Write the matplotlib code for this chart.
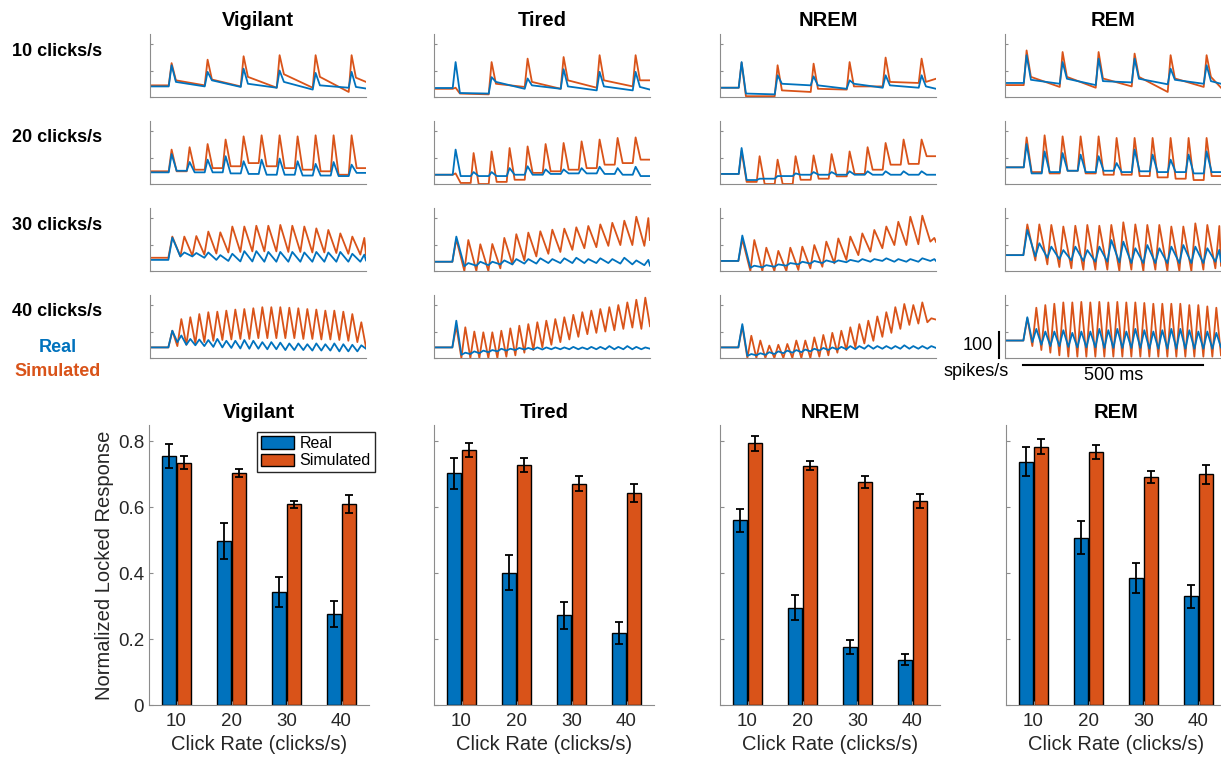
import numpy as np
import matplotlib
matplotlib.use("Agg")
import matplotlib.pyplot as plt

plt.rcParams['font.family'] = ['Liberation Sans', 'DejaVu Sans']

BLUE = '#0072BD'
ORANGE = '#D95319'
AXC = '#8c8c8c'
TXT = '#262626'

states = ["Vigilant", "Tired", "NREM", "REM"]
rates = [10, 20, 30, 40]
rate_labels = ["10 clicks/s", "20 clicks/s", "30 clicks/s", "40 clicks/s"]

# ---- bar chart: normalized locked response (mean, error) ----
real_vigilant = [0.756, 0.497, 0.343, 0.276]
real_vigilant_err = [0.037, 0.055, 0.046, 0.039]
sim_vigilant = [0.735, 0.705, 0.609, 0.609]
sim_vigilant_err = [0.020, 0.012, 0.010, 0.027]

real_tired = [0.703, 0.402, 0.272, 0.219]
real_tired_err = [0.048, 0.052, 0.041, 0.033]
sim_tired = [0.775, 0.729, 0.672, 0.643]
sim_tired_err = [0.021, 0.022, 0.022, 0.028]

real_nrem = [0.561, 0.295, 0.176, 0.138]
real_nrem_err = [0.035, 0.038, 0.022, 0.018]
sim_nrem = [0.794, 0.726, 0.677, 0.620]
sim_nrem_err = [0.023, 0.014, 0.019, 0.022]

real_rem = [0.739, 0.508, 0.385, 0.330]
real_rem_err = [0.045, 0.050, 0.046, 0.035]
sim_rem = [0.784, 0.768, 0.693, 0.700]
sim_rem_err = [0.022, 0.020, 0.018, 0.029]

# ---- PSTH traces (spikes/s) ----
# per rate: trough value at each click (+ value at end of window), peak after each click
# 10 clicks/s also has the value ~20 ms after each peak
vigilant_real_trough = [
    [40, 40, 38, 35, 28, 35, 32],
    [44, 50, 44, 44, 40, 38, 35, 35, 32, 32, 30, 42],
    [42, 55, 55, 50, 42, 38, 36, 36, 35, 35, 35, 35, 35, 35, 35, 35, 35, 40],
    [40, 60, 50, 48, 45, 42, 40, 38, 36, 35, 35, 33, 33, 30, 30, 30, 28, 28, 28, 25, 25, 25, 35]]
vigilant_real_peak = [
    [120, 95, 107, 100, 91, 95],
    [113, 83, 92, 105, 86, 92, 96, 86, 76, 83, 73],
    [126, 70, 68, 70, 60, 65, 75, 75, 72, 72, 72, 70, 72, 70, 72, 65, 62],
    [103, 85, 72, 70, 68, 72, 65, 65, 68, 65, 60, 60, 58, 55, 55, 52, 55, 52, 55, 52, 50, 48]]
vigilant_real_mid = [57, 63, 50, 57, 44, 38]
vigilant_sim_trough = [
    [44, 44, 40, 35, 35, 19, 57],
    [48, 48, 54, 60, 67, 79, 67, 60, 54, 48, 35, 60],
    [50, 55, 58, 62, 66, 70, 72, 74, 74, 74, 72, 72, 70, 70, 68, 65, 62, 60],
    [40, 45, 50, 55, 60, 65, 68, 70, 72, 72, 75, 75, 75, 75, 75, 72, 72, 70, 70, 68, 65, 60, 40]]
vigilant_sim_peak = [
    [128, 141, 154, 158, 158, 158],
    [130, 139, 151, 168, 180, 184, 184, 180, 184, 184, 184],
    [130, 130, 132, 149, 146, 168, 168, 171, 171, 174, 171, 168, 161, 155, 142, 130, 125],
    [103, 147, 154, 166, 173, 175, 179, 183, 185, 188, 192, 192, 192, 190, 188, 185, 183, 179, 179, 175, 166, 135]]
vigilant_sim_mid = [63, 66, 76, 86, 76, 73]

tired_real_trough = [
    [34, 13, 31, 31, 25, 25, 28],
    [35, 30, 30, 30, 35, 35, 38, 40, 40, 38, 35, 30],
    [35, 18, 20, 22, 25, 25, 28, 28, 30, 30, 30, 30, 30, 30, 28, 25, 22, 20],
    [40, 12, 15, 18, 22, 25, 28, 30, 32, 32, 32, 33, 33, 33, 33, 33, 33, 33, 33, 33, 33, 33, 35]]
tired_real_peak = [
    [132, 75, 70, 105, 95, 95],
    [130, 45, 45, 60, 67, 55, 55, 60, 65, 60, 65],
    [130, 30, 35, 35, 40, 45, 45, 48, 45, 48, 50, 45, 48, 45, 50, 40, 42],
    [141, 20, 25, 28, 30, 35, 35, 38, 38, 40, 40, 40, 40, 42, 40, 42, 42, 45, 42, 45, 42, 40]]
tired_real_mid = [15, 57, 44, 40, 40, 38]
tired_sim_trough = [
    [31, 10, 38, 31, 35, 40, 63],
    [35, 4, 0, 8, 16, 42, 48, 54, 60, 73, 79, 92],
    [35, 0, 0, 0, 10, 25, 40, 55, 65, 72, 80, 86, 90, 95, 98, 98, 95, 117],
    [40, 0, 0, 0, 0, 0, 5, 10, 20, 30, 40, 50, 60, 70, 80, 90, 95, 100, 105, 110, 115, 110, 120]]
tired_sim_peak = [
    [35, 132, 145, 151, 158, 158],
    [40, 117, 123, 136, 142, 151, 155, 161, 168, 174, 176],
    [120, 117, 101, 102, 125, 139, 145, 150, 156, 160, 165, 170, 176, 182, 190, 205, 200],
    [120, 116, 100, 97, 97, 103, 112, 122, 128, 135, 141, 147, 154, 163, 173, 179, 185, 192, 200, 210, 220, 228]]
tired_sim_mid = [13, 50, 57, 63, 63, 63]

nrem_real_trough = [
    [35, 10, 44, 31, 35, 35, 31],
    [38, 15, 20, 30, 35, 35, 35, 35, 35, 35, 35, 35],
    [38, 12, 14, 16, 20, 25, 28, 30, 32, 33, 35, 35, 38, 35, 35, 35, 38, 38],
    [40, 8, 10, 12, 15, 18, 20, 22, 25, 28, 30, 32, 33, 33, 35, 35, 35, 35, 35, 35, 35, 35, 38]]
nrem_real_peak = [
    [132, 82, 78, 63, 82, 82],
    [136, 20, 30, 40, 45, 45, 48, 48, 48, 48, 48],
    [134, 20, 22, 25, 30, 35, 38, 40, 40, 42, 45, 45, 48, 45, 45, 48, 45],
    [128, 15, 18, 22, 25, 28, 30, 32, 35, 38, 40, 42, 45, 45, 48, 45, 45, 45, 48, 45, 45, 45]]
nrem_real_mid = [13, 50, 44, 50, 44, 40]
nrem_sim_trough = [
    [35, 3, 19, 28, 40, 53, 69],
    [38, 8, 0, 0, 16, 20, 29, 38, 54, 73, 76, 105],
    [38, 0, 0, 0, 0, 4, 10, 16, 29, 42, 60, 73, 86, 98, 98, 101, 111, 110],
    [40, 0, 0, 0, 0, 0, 0, 0, 0, 5, 10, 20, 30, 40, 55, 65, 80, 95, 110, 125, 130, 135, 145]]
nrem_sim_peak = [
    [130, 120, 126, 132, 149, 145],
    [125, 105, 92, 105, 108, 113, 123, 139, 155, 168, 168],
    [120, 117, 88, 76, 88, 92, 98, 111, 123, 130, 142, 155, 168, 186, 205, 209, 125],
    [120, 84, 66, 47, 50, 53, 66, 66, 78, 87, 95, 103, 116, 128, 141, 157, 173, 192, 204, 200, 210, 150]]
nrem_sim_mid = [3, 25, 31, 40, 57, 57]

rem_real_trough = [
    [53, 50, 45, 55, 48, 50, 50],
    [63, 40, 45, 50, 45, 50, 45, 48, 45, 45, 40, 45],
    [60, 55, 50, 45, 40, 38, 35, 35, 32, 30, 30, 30, 30, 30, 30, 30, 35, 35],
    [66, 60, 50, 45, 45, 42, 40, 40, 40, 38, 38, 38, 38, 38, 35, 35, 35, 35, 35, 35, 35, 35, 40]]
rem_real_peak = [
    [158, 132, 145, 145, 107, 120],
    [151, 123, 117, 111, 105, 79, 130, 111, 92, 111, 123],
    [155, 105, 92, 79, 92, 79, 92, 117, 111, 86, 98, 86, 92, 98, 92, 86, 80],
    [154, 110, 100, 100, 105, 95, 100, 100, 110, 105, 110, 100, 110, 105, 100, 105, 110, 110, 105, 100, 100, 95]]
rem_real_mid = [65, 69, 60, 69, 65, 60]
rem_sim_trough = [
    [45, 38, 35, 40, 19, 38, 35],
    [63, 45, 40, 50, 40, 35, 35, 30, 25, 20, 15, 30],
    [60, 40, 25, 15, 10, 5, 5, 5, 0, 5, 0, 5, 0, 0, 0, 5, 10, 20],
    [66, 45, 30, 20, 10, 5, 5, 5, 5, 5, 5, 5, 5, 5, 5, 5, 5, 5, 5, 5, 5, 5, 10]]
rem_sim_peak = [
    [176, 170, 170, 164, 158, 158],
    [176, 184, 180, 180, 180, 174, 174, 174, 174, 174, 174],
    [176, 176, 174, 168, 171, 174, 171, 174, 184, 176, 174, 174, 168, 168, 180, 174, 170],
    [150, 190, 200, 205, 210, 210, 212, 210, 212, 210, 212, 210, 210, 208, 205, 205, 205, 205, 200, 200, 195, 190]]
rem_sim_mid = [76, 76, 70, 76, 70, 76]

traces = {
    "Vigilant": (vigilant_real_trough, vigilant_real_peak, vigilant_real_mid,
                 vigilant_sim_trough, vigilant_sim_peak, vigilant_sim_mid),
    "Tired": (tired_real_trough, tired_real_peak, tired_real_mid,
              tired_sim_trough, tired_sim_peak, tired_sim_mid),
    "NREM": (nrem_real_trough, nrem_real_peak, nrem_real_mid,
             nrem_sim_trough, nrem_sim_peak, nrem_sim_mid),
    "REM": (rem_real_trough, rem_real_peak, rem_real_mid,
            rem_sim_trough, rem_sim_peak, rem_sim_mid),
}
bars = {
    "Vigilant": (real_vigilant, real_vigilant_err, sim_vigilant, sim_vigilant_err),
    "Tired": (real_tired, real_tired_err, sim_tired, sim_tired_err),
    "NREM": (real_nrem, real_nrem_err, sim_nrem, sim_nrem_err),
    "REM": (real_rem, real_rem_err, sim_rem, sim_rem_err),
}


def build_trace(rate, trough, peak, mid=None):
    # vertices: trough at each click, peak ~10 ms later (clicks start at t=0)
    period = 1000.0 / rate
    t = [-50]
    v = [trough[0]]
    for i, p in enumerate(peak):
        tc = i * period
        if rate <= 20:
            t += [tc + 2, tc + 10]
            v += [trough[i], p]
            if mid is not None:
                t.append(tc + 22)
                v.append(mid[i])
            else:
                t.append(tc + 24)
                v.append(trough[i + 1])
        else:
            t += [tc + 1, tc + 12]
            v += [trough[i], p]
    t.append(550)
    v.append(trough[-1])
    return t, v


W, H = 1221, 760
fig = plt.figure(figsize=(W / 100, H / 100), dpi=100)


def px_axes(x0, y_top, w, h):
    return fig.add_axes([x0 / W, 1 - (y_top + h) / H, w / W, h / H])


col_left = [150, 434, 720, 1005]
row_top = [34, 121, 208, 295]
trace_w, trace_h = 216, 63

for c, st in enumerate(states):
    rt, rp, rm, stt, sp, sm = traces[st]
    for r, rate in enumerate(rates):
        ax = px_axes(col_left[c], row_top[r], trace_w, trace_h)
        mid_r = rm if rate == 10 else None
        mid_s = sm if rate == 10 else None
        ts, vs = build_trace(rate, stt[r], sp[r], mid_s)
        tr, vr = build_trace(rate, rt[r], rp[r], mid_r)
        ax.plot(ts, vs, color=ORANGE, lw=1.3)
        ax.plot(tr, vr, color=BLUE, lw=1.3)
        ax.set_xlim(-50, 550)
        ax.set_ylim(0, 238)
        for s in ['top', 'right']:
            ax.spines[s].set_visible(False)
        for s in ['left', 'bottom']:
            ax.spines[s].set_color(AXC)
            ax.spines[s].set_linewidth(0.8)
        ax.set_xticks([])
        ax.set_yticks([0, 100, 200])
        ax.set_yticklabels([])
        ax.tick_params(axis='y', direction='in', length=2.5, color=AXC, width=0.8)
        if r == 0:
            fig.text((col_left[c] + trace_w / 2) / W, 1 - 21 / H, st,
                     ha='center', va='center', fontsize=14.5, fontweight='bold')
        if c == 3 and r == 3:
            # scale bars
            ax.plot([0, 500], [-27, -27], color='black', lw=1.5, clip_on=False)
            ax.plot([-67, -67], [0, 100], color='black', lw=1.5, clip_on=False)

row_lab_y = [52, 138, 225, 312]
for r in range(4):
    fig.text(12 / W, 1 - row_lab_y[r] / H, rate_labels[r], ha='left', va='center',
             fontsize=13, fontweight='bold')
fig.text(58 / W, 1 - 348 / H, "Real", color=BLUE, ha='center', va='center',
         fontsize=13, fontweight='bold')
fig.text(58 / W, 1 - 371 / H, "Simulated", color=ORANGE, ha='center', va='center',
         fontsize=13, fontweight='bold')
fig.text(993 / W, 1 - 346 / H, "100", ha='right', va='center', fontsize=13)
fig.text(976 / W, 1 - 372 / H, "spikes/s", ha='center', va='center', fontsize=13)
fig.text(1114 / W, 1 - 376 / H, "500 ms", ha='center', va='center', fontsize=13)

# ---- bar charts ----
bar_left = [149, 434, 720, 1006]
x = np.arange(1, 5)
bw = 0.242
off = 0.136
for c, st in enumerate(states):
    rm_, re_, sm_, se_ = bars[st]
    ax = px_axes(bar_left[c], 425, 220, 280)
    b1 = ax.bar(x - off, rm_, bw, color=BLUE, edgecolor='black', lw=1.0, label='Real')
    b2 = ax.bar(x + off, sm_, bw, color=ORANGE, edgecolor='black', lw=1.0, label='Simulated')
    ax.errorbar(x - off, rm_, yerr=re_, fmt='none', ecolor='black', elinewidth=1.3, capsize=2.6, capthick=1.3)
    ax.errorbar(x + off, sm_, yerr=se_, fmt='none', ecolor='black', elinewidth=1.3, capsize=2.6, capthick=1.3)
    ax.set_xlim(0.5, 4.5)
    ax.set_ylim(0, 0.85)
    for s in ['top', 'right']:
        ax.spines[s].set_visible(False)
    for s in ['left', 'bottom']:
        ax.spines[s].set_color(AXC)
        ax.spines[s].set_linewidth(0.8)
    ax.set_xticks(x)
    ax.set_xticklabels([str(v) for v in rates])
    ax.set_yticks([0, 0.2, 0.4, 0.6, 0.8])
    if c == 0:
        ax.set_yticklabels(["0", "0.2", "0.4", "0.6", "0.8"])
        ax.set_ylabel("Normalized Locked Response", fontsize=14.5, color=TXT, labelpad=3)
        ax.legend(loc='upper right', bbox_to_anchor=(1.025, 0.975), fontsize=11.5,
                  frameon=True, fancybox=False, edgecolor=TXT, framealpha=1,
                  handlelength=2.1, handleheight=0.8, labelspacing=0.15,
                  borderpad=0.25, handletextpad=0.3, borderaxespad=0)
    else:
        ax.set_yticklabels([])
    ax.tick_params(axis='both', direction='in', length=3, color=AXC, width=0.8,
                   labelsize=13.5, labelcolor=TXT)
    ax.tick_params(axis='x', pad=6)
    ax.set_xlabel("Click Rate (clicks/s)", fontsize=14.5, color=TXT, labelpad=3)
    ax.set_title(st, fontsize=14.5, fontweight='bold', pad=5)

fig.savefig("out.png", dpi=100)
